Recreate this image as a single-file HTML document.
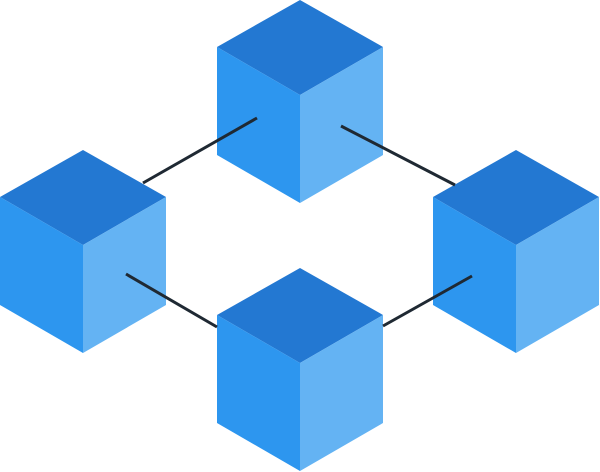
<!DOCTYPE html>
<html><head><meta charset="utf-8"><style>html,body{margin:0;padding:0;background:#fff}svg{display:block}</style></head>
<body>
<svg width="600" height="472" viewBox="0 0 600 472" xmlns="http://www.w3.org/2000/svg">
<defs>
<g id="cube">
<polygon points="0,0 -83,47 0,95 83,47" fill="#2378d2"/>
<polygon points="-83,47 0,95 0,203 -83,155" fill="#2d96ef"/>
<polygon points="83,47 0,95 0,203 83,155" fill="#64b3f3"/>
</g>
</defs>
<use href="#cube" x="300" y="0"/>
<use href="#cube" x="83" y="150"/>
<use href="#cube" x="516" y="150"/>
<use href="#cube" x="300" y="268"/>
<g stroke="#1f2933" stroke-width="3" stroke-linecap="butt">
<line x1="143" y1="183" x2="257" y2="118"/>
<line x1="341" y1="126" x2="455" y2="185"/>
<line x1="126" y1="274" x2="217" y2="327"/>
<line x1="383" y1="326" x2="472" y2="276"/>
</g>
</svg>
</body></html>
